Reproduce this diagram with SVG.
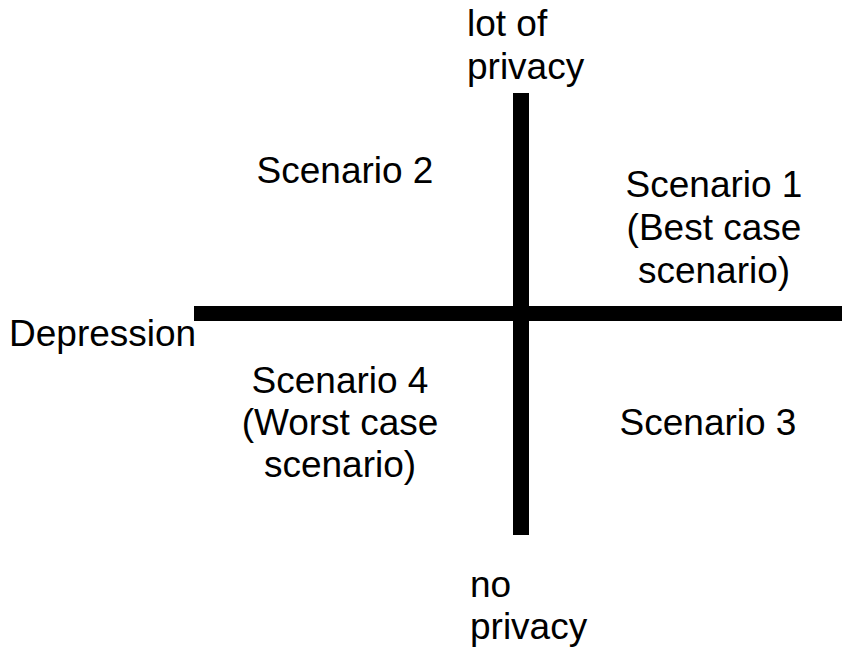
<svg xmlns="http://www.w3.org/2000/svg" width="842" height="650" viewBox="0 0 842 650">
<style>
text{font-family:"Liberation Sans",Arial,sans-serif;font-size:37px;fill:#000}
.c{text-anchor:middle}
</style>
<rect width="842" height="650" fill="#fff"/>
<g id="connectors">
<rect x="194" y="306" width="648" height="15" fill="#000"/>
<rect x="513" y="93" width="16" height="442" fill="#000"/>
</g>
<g id="top-label"><text x="467" y="36">lot of</text><text x="467" y="79">privacy</text></g>
<g id="bottom-label"><text x="470" y="597">no</text><text x="470" y="639">privacy</text></g>
<g id="left-label"><text x="9" y="346">Depression</text></g>
<g id="scenario2"><text class="c" x="345" y="183">Scenario 2</text></g>
<g id="scenario1"><text class="c" x="714" y="197">Scenario 1</text><text class="c" x="714" y="240">(Best case</text><text class="c" x="714" y="283">scenario)</text></g>
<g id="scenario4"><text class="c" x="340" y="393">Scenario 4</text><text class="c" x="340" y="435">(Worst case</text><text class="c" x="340" y="477">scenario)</text></g>
<g id="scenario3"><text class="c" x="708" y="435">Scenario 3</text></g>
</svg>
